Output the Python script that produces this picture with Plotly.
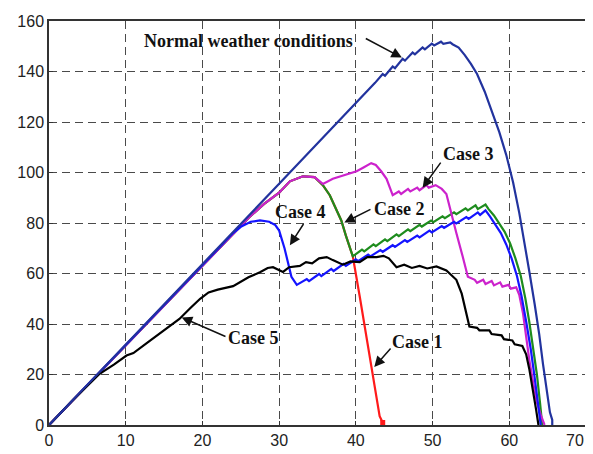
import plotly.graph_objects as go

# ---- data ----
NORMAL_V = [0, 5, 10, 15, 20, 25, 30, 35, 40, 42.5, 43.5, 43.8, 44.8, 45.1, 46.1, 46.4, 47.4, 47.7, 48.7, 49.0,
            49.9, 50.2, 51.1, 51.4, 52.3, 52.6, 53.4, 54.2, 55, 55.8, 56.8, 57.8, 58.7, 59.6, 60.5, 61.3, 62,
            62.6, 63.3, 63.9, 64.4, 64.9, 65.3, 65.6, 65.6]
NORMAL_P = [0, 16, 32, 47.8, 63.7, 79.6, 95.5, 111.4, 127.3, 135.5, 139, 138.3, 142, 141.3, 145, 144.3, 147.5, 146.8,
            149.5, 148.8, 151, 150.3, 151.8, 151, 151.5, 150.8, 149.5, 146.5, 143, 139, 132, 124, 116, 107, 96, 84,
            72, 61, 48, 36, 24, 13, 5, 2, 0]

C1_V = [0, 5, 10, 15, 20, 24, 26, 28, 30, 31.4, 33.1, 34.6, 35.7, 36.6, 37.4, 38.1, 38.7, 39.2, 39.6,
        40.5, 41.4, 42.3, 43.1, 43.5]
C1_P = [0, 15.8, 31.6, 47.4, 63.2, 76, 82, 87.5, 92, 96.5, 98.5, 98.2, 95, 91, 86, 81, 75, 70, 66.8,
        51, 35, 18.5, 3.5, 1]

C2_V = [0, 5, 10, 15, 20, 24, 26, 28, 30, 31.4, 33.1, 34.6, 35.7, 36.6, 37.4, 38.1, 38.7, 39.2, 39.6,
        40.8, 41.1, 42.3, 42.6, 43.8, 44.1, 45.3, 45.6, 46.8, 47.1, 48.3, 48.6, 49.8, 50.1, 51.3, 51.6,
        52.8, 53.1, 54.3, 54.6, 55.6, 55.9, 56.9, 57.3, 58, 58.7, 59.4, 60.1, 60.8, 61.5, 62.1, 62.6,
        63.1, 63.6, 64, 64.3]
C2_P = [0, 15.8, 31.6, 47.4, 63.2, 76, 82, 87.5, 92, 96.5, 98.5, 98.2, 95, 91, 86, 81, 75, 70, 66.8,
        69.5, 68.8, 71.5, 70.8, 73.5, 72.8, 75.5, 74.8, 77.5, 76.8, 79.3, 78.6, 81, 80.3, 82.6, 81.9,
        84.2, 83.5, 85.8, 85, 87, 85.5, 87.3, 85.5, 83, 80, 76.5, 72, 66, 59, 50, 41,
        31, 20, 9, 0]

C3_V = [0, 5, 10, 15, 20, 24, 26, 28, 30, 31.4, 33.1, 34.6, 35.7, 37, 38.5, 40.1, 41, 42, 42.6, 43.3,
        44, 44.8, 45.6, 45.9, 46.8, 47.1, 48, 48.3, 49.2, 49.5, 50.4, 51.2, 51.8, 52.4, 53.1, 53.9, 54.6,
        55.5, 55.8, 56.6, 56.9, 57.7, 58, 58.8, 59.1, 59.9, 60.2, 60.9, 61.3, 61.8, 62.2, 62.6, 63.1,
        63.6, 64.1, 64.5, 64.6]
C3_P = [0, 15.8, 31.6, 47.4, 63.2, 76, 82, 87.5, 92, 96.5, 98.5, 98.2, 95.5, 97.5, 99, 100.5, 102, 103.7, 103, 100.5,
        97.5, 91, 92.5, 91.5, 93.5, 92.5, 94, 93, 95, 94, 95, 93.5, 91.5, 84, 76, 67, 58.7,
        57.5, 56.3, 57.5, 55.8, 57, 55.3, 56.5, 54.8, 55.5, 54, 54.5, 51.6, 44, 35, 26, 17,
        9, 4, 1, 0]

C4_V = [0, 5, 10, 15, 20, 24, 25, 26.3, 27.5, 28.7, 29.5, 30, 30.7, 31.2, 31.6, 32.3, 33.6, 33.9, 35.2, 35.5,
        36.8, 37.1, 38.4, 38.7, 40, 40.3, 41.6, 41.9, 43.2, 43.5, 44.8, 45.1, 46.4, 46.7, 48, 48.3, 49.6,
        49.9, 51.2, 51.5, 52.8, 53.1, 54.4, 54.7, 55.9, 56.2, 56.9, 57.5, 58.2, 58.9, 59.6, 60.3, 61,
        61.6, 62.2, 62.8, 63.3, 63.7, 64.1]
C4_P = [0, 15.8, 31.6, 47.4, 63.2, 76, 78.5, 80.5, 81, 80.5, 79.2, 77, 70, 63, 58.7, 55.5, 57.8, 57, 59.8, 59,
        61.8, 61, 63.8, 63, 65.6, 64.9, 67.5, 66.8, 69.3, 68.6, 71.2, 70.5, 73.2, 72.5, 75, 74.3, 77,
        76.3, 78.8, 78.1, 80.5, 79.8, 82.3, 81.6, 84.2, 83.2, 85, 82.5, 79.5, 76, 71.5, 66, 59,
        51, 41, 30, 19, 9, 0]

C5_V = [0, 3, 6.6, 8.5, 10.1, 11, 13, 15, 17, 18.5, 19.7, 20.8, 22, 24, 26, 27.5, 28.5, 29.2, 30.5, 31.3,
        32.7, 33.5, 34.3, 35.2, 36.2, 37, 38.3, 39.3, 40.5, 41.5, 42.7, 43.6, 44.3, 45.3, 46.3, 47.3,
        48.3, 49.3, 50.5, 51.8, 53.1, 53.8, 54.3, 54.8, 55.8, 56.1, 57.4, 57.7, 59, 59.3, 60.4, 60.7,
        61.7, 62.2, 62.6, 63.1, 63.5, 63.8]
C5_P = [0, 9.5, 20.3, 24, 27.5, 28.5, 33, 37.5, 42, 46.5, 50, 52.5, 53.6, 55, 58.5, 60.5, 62.2, 62.5, 60.6, 62.5,
        63, 64.5, 64, 66, 66.5, 65.3, 63.5, 64.8, 64.5, 66.5, 66.5, 67, 66, 62.5, 63.5, 62.2,
        63, 62, 62.8, 61.2, 57.5, 52, 45, 39, 38.5, 37.5, 37.5, 36, 35.5, 34, 33.5, 32,
        31.3, 28, 22.3, 14, 6, 0]

X_TICKS = [0, 10, 20, 30, 40, 50, 60, 70]
Y_TICKS = [0, 20, 40, 60, 80, 100, 120, 140, 160]

# labels: (text, text_x, text_y, tail_x, tail_y, head_x, head_y)
LABELS = [
    ("Normal weather conditions", 26.0, 152.2, 41.1, 153.4, 46.0, 145.5),
    ("Case 3", 54.7, 107.2, 51.2, 104.5, 48.7, 94.0),
    ("Case 2", 45.7, 85.7, 42.1, 85.7, 38.5, 80.2),
    ("Case 4", 32.8, 84.5, 33.3, 80.2, 31.4, 71.2),
    ("Case 5", 26.6, 34.4, 23.2, 34.8, 17.3, 42.6),
    ("Case 1", 48.0, 32.9, 44.7, 30.9, 42.4, 23.0),
]

TICK_FONT = dict(family="Liberation Sans", size=16, color="#222")

fig = go.Figure()
LW = 2.2
fig.add_trace(go.Scatter(x=C1_V, y=C1_P, mode="lines", line=dict(color="#ff1a1a", width=LW)))
fig.add_trace(go.Scatter(x=C1_V[-1:], y=C1_P[-1:], mode="markers",
                         marker=dict(color="#ff1a1a", symbol="square", size=5)))
fig.add_trace(go.Scatter(x=C2_V, y=C2_P, mode="lines", line=dict(color="#1e8c1e", width=LW)))
fig.add_trace(go.Scatter(x=C3_V, y=C3_P, mode="lines", line=dict(color="#cc22cc", width=LW)))
fig.add_trace(go.Scatter(x=C4_V, y=C4_P, mode="lines", line=dict(color="#1414ff", width=LW)))
fig.add_trace(go.Scatter(x=C5_V, y=C5_P, mode="lines", line=dict(color="#000000", width=LW)))
fig.add_trace(go.Scatter(x=NORMAL_V, y=NORMAL_P, mode="lines", line=dict(color="#22339e", width=LW)))

for text, tx, ty, ax, ay, hx, hy in LABELS:
    fig.add_annotation(x=tx, y=ty, xref="x", yref="y", text="<b>" + text + "</b>", showarrow=False,
                       font=dict(family="Liberation Serif", size=18, color="#111"))
    fig.add_annotation(x=hx, y=hy, ax=ax, ay=ay, xref="x", yref="y", axref="x", ayref="y", text="",
                       showarrow=True, arrowhead=2, arrowsize=1.4, arrowwidth=1.5, arrowcolor="#111",
                       standoff=0, startstandoff=0)

# last x tick label sits at the page edge; plotly drops it, so place it as text
fig.add_annotation(x=1.0, y=0, xref="paper", yref="y", text=str(X_TICKS[-1]), showarrow=False,
                   xanchor="right", yanchor="top", yshift=-5, font=TICK_FONT)

axis_common = dict(showgrid=True, gridcolor="#4a4a4a", griddash="8px,5px", gridwidth=1.1,
                   showline=True, linecolor="#333333", linewidth=1.5, mirror=True,
                   ticks="inside", ticklen=4, tickcolor="#333333", zeroline=False,
                   tickfont=TICK_FONT)
fig.update_xaxes(range=[0, 70], tickvals=X_TICKS[:-1], **axis_common)
fig.update_yaxes(range=[0, 160], tickvals=Y_TICKS, **axis_common)

# page body adds an 8px offset, so the figure is 8px smaller and margins are shifted
fig.update_layout(width=585, height=446, margin=dict(l=41, r=5, t=10, b=27),
                  plot_bgcolor="white", paper_bgcolor="white", showlegend=False)

fig.write_html("out.html")
